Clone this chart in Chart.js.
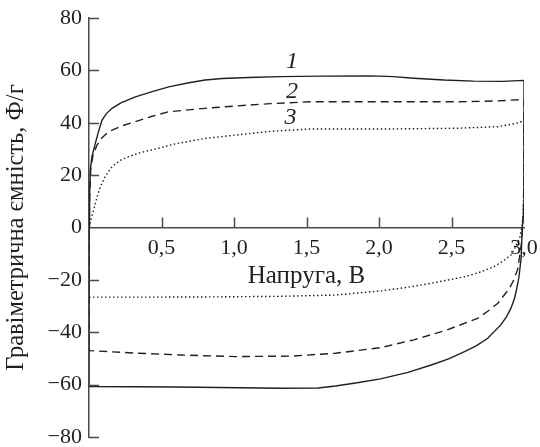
<!DOCTYPE html>
<html>
<head>
<meta charset="utf-8">
<script src="https://cdn.jsdelivr.net/npm/chart.js@4.4.0/dist/chart.umd.min.js"></script>
<style>
  html, body { margin: 0; padding: 0; background: #fff; }
  #wrap { width: 540px; height: 447px; position: relative; }
</style>
</head>
<body>
<div id="wrap"><canvas id="cv"></canvas></div>
<script>
// curve 1 (solid) - full CV loop, forward then back
const volt1 = [0, 0.004, 0.009, 0.02, 0.043, 0.065, 0.09, 0.12, 0.159, 0.22, 0.32, 0.43, 0.55, 0.68, 0.80, 0.92, 1.10, 1.32, 1.60, 1.94, 2.10, 2.24, 2.45, 2.65, 2.85, 3.00,
  3.00, 3.00, 2.995, 2.988, 2.98, 2.965, 2.955, 2.935, 2.91, 2.88, 2.84, 2.75, 2.67, 2.59, 2.48, 2.36, 2.20, 2.01, 1.85, 1.70, 1.58, 1.32, 0.90, 0.60, 0.30, 0, 0];
const cap1 = [0, 12, 22, 27, 32, 36.5, 41, 43.5, 45.5, 47.6, 49.9, 51.8, 53.7, 55.2, 56.3, 56.9, 57.3, 57.6, 57.8, 57.9, 57.6, 57.0, 56.3, 55.9, 55.8, 56.2,
  30, 10, 4, 0, -11.8, -19, -22, -27, -30.8, -34, -37.2, -42.3, -45.2, -47.4, -50.2, -52.5, -55.3, -57.8, -59.3, -60.5, -61.3, -61.4, -61.1, -60.9, -60.8, -60.7, 0];

// curve 2 (dashed)
const volt2 = [0, 0.005, 0.012, 0.025, 0.055, 0.09, 0.135, 0.22, 0.32, 0.43, 0.55, 0.80, 1.01, 1.25, 1.52, 2.03, 2.54, 2.80, 3.00,
  3.00, 2.995, 2.985, 2.97, 2.955, 2.93, 2.90, 2.82, 2.75, 2.68, 2.47, 2.24, 2.01, 1.70, 1.40, 1.01, 0.63, 0.30, 0, 0];
const cap2 = [0, 12, 22, 27, 31.5, 34.3, 36.6, 38.7, 40.4, 42.4, 44.2, 45.5, 46.4, 47.3, 48.0, 48.0, 48.0, 48.3, 48.9,
  20, 5, -5, -11, -16.2, -20, -23.2, -28.9, -32, -34.7, -39.1, -42.9, -45.9, -48.0, -49.1, -49.3, -48.7, -47.9, -47.0, 0];

// curve 3 (dotted)
const volt3 = [0, 0.015, 0.032, 0.055, 0.078, 0.115, 0.159, 0.21, 0.27, 0.35, 0.43, 0.60, 0.80, 1.01, 1.25, 1.52, 2.03, 2.54, 2.82, 2.95, 3.00,
  3.00, 2.995, 2.985, 2.97, 2.94, 2.91, 2.85, 2.79, 2.70, 2.59, 2.47, 2.36, 2.20, 2.01, 1.70, 1.30, 0.86, 0.40, 0, 0];
const cap3 = [0, 3.5, 6.7, 11.5, 15.6, 19.8, 23.2, 25.5, 27, 28.5, 29.6, 32, 34, 35.3, 36.7, 37.6, 37.6, 37.9, 38.5, 39.8, 40.8,
  20, 5, 0, -4.1, -7.5, -10.5, -13, -15, -17, -18.8, -20.1, -21.3, -22.8, -24.2, -25.8, -26.3, -26.5, -26.6, -26.6, 0];

// curve numbers written on the plot
const curveNames = ['1', '2', '3'];
const nameVolt = [1.40, 1.40, 1.39];
const nameCap = [63.3, 51.8, 41.8];

const ink = '#231f20';
const axisInk = '#4a4a4a';
const serif = "'Liberation Serif', 'DejaVu Serif', serif";

const toPts = (xs, ys) => xs.map((v, i) => ({ x: v, y: ys[i] }));

// inward tick marks + curve numbers
const decor = {
  id: 'decor',
  afterDraw(chart) {
    const { ctx, scales: { x, y } } = chart;
    const y0 = y.getPixelForValue(0);
    ctx.save();
    ctx.strokeStyle = axisInk;
    ctx.lineWidth = 1.5;
    ctx.beginPath();
    x.ticks.forEach(t => {
      if (t.value <= 0 || t.value >= 3) return;
      const px = Math.round(x.getPixelForValue(t.value)) + 0.5;
      ctx.moveTo(px, y0);
      ctx.lineTo(px, y0 - 10);
    });
    y.ticks.forEach(t => {
      if (t.value === 0) return;
      const py = Math.round(y.getPixelForValue(t.value)) + 0.5;
      ctx.moveTo(x.left, py);
      ctx.lineTo(x.left + 10, py);
    });
    ctx.stroke();

    ctx.fillStyle = ink;
    ctx.font = 'italic 24px ' + serif;
    ctx.textAlign = 'center';
    ctx.textBaseline = 'middle';
    curveNames.forEach((n, i) => {
      ctx.fillText(n, x.getPixelForValue(nameVolt[i]), y.getPixelForValue(nameCap[i]));
    });
    ctx.restore();
  }
};

const lineDs = (label, xs, ys, dash) => ({
  label,
  data: toPts(xs, ys),
  showLine: true,
  borderColor: ink,
  borderWidth: 1.4,
  borderDash: dash,
  pointRadius: 0,
  tension: 0,
  fill: false
});

function draw() {
  new Chart(document.getElementById('cv'), {
    type: 'scatter',
    data: {
      datasets: [
        lineDs('1', volt1, cap1, []),
        lineDs('2', volt2, cap2, [8, 5]),
        lineDs('3', volt3, cap3, [1.5, 2.5])
      ]
    },
    options: {
      responsive: true,
      maintainAspectRatio: false,
      animation: false,
      layout: { padding: { top: 18, right: 16, bottom: 10, left: 0 } },
      plugins: { legend: { display: false }, tooltip: { enabled: false } },
      scales: {
        x: {
          type: 'linear',
          min: 0,
          max: 3,
          position: { y: 0 },
          afterFit: s => { s.paddingLeft = 0; s.paddingRight = 0; },
          grid: { display: false, drawTicks: false },
          border: { display: true, color: axisInk, width: 1.5 },
          ticks: {
            stepSize: 0.5,
            padding: 8,
            color: ink,
            font: { family: serif, size: 22 },
            maxRotation: 0,
            autoSkip: false,
            callback: v => v === 0 ? '' : v.toFixed(1).replace('.', ',')
          },
          title: {
            display: true,
            text: 'Напруга, В',
            color: ink,
            font: { family: serif, size: 25 },
            padding: { top: -8, bottom: 0 }
          }
        },
        y: {
          type: 'linear',
          min: -80,
          max: 80,
          position: 'left',
          afterFit: s => { s.width = 89; s.paddingTop = 0; s.paddingBottom = 0; },
          grid: { display: false, drawTicks: false },
          border: { display: true, color: axisInk, width: 1.5 },
          ticks: {
            stepSize: 20,
            padding: 7,
            color: ink,
            font: { family: serif, size: 22 },
            callback: v => v < 0 ? '\u2212' + Math.abs(v) : String(v)
          },
          title: {
            display: true,
            text: 'Гравіметрична ємність, Ф/г',
            color: ink,
            font: { family: serif, size: 24.5 },
            padding: { top: 2, bottom: 0 }
          }
        }
      }
    },
    plugins: [decor]
  });
}

Promise.all([
  document.fonts.load("22px 'Liberation Serif'"),
  document.fonts.load("italic 24px 'Liberation Serif'")
]).then(draw, draw);
</script>
</body>
</html>
